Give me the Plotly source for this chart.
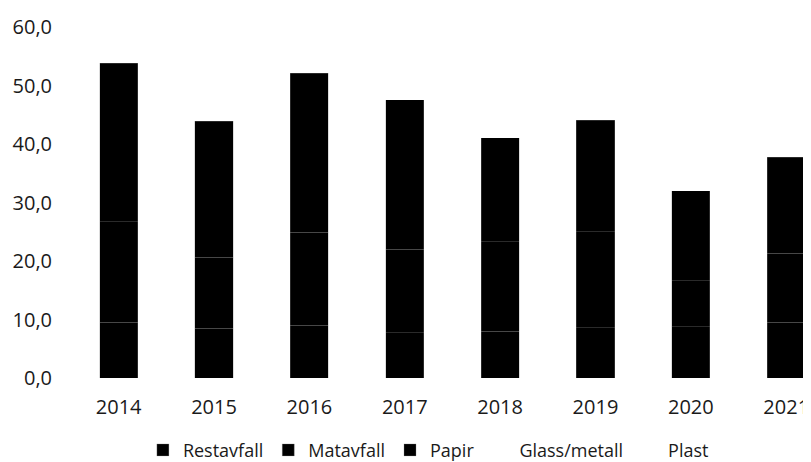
import plotly.graph_objects as go

years = ["2014", "2015", "2016", "2017", "2018", "2019", "2020", "2021"]
restavfall = [9.5, 8.5, 9.0, 7.7, 8.0, 8.6, 8.8, 9.5]
matavfall = [17.2, 12.1, 15.9, 14.3, 15.3, 16.4, 7.8, 11.8]
papir = [27.1, 23.3, 27.2, 25.6, 17.8, 19.1, 15.4, 16.4]
glass_metall = [1.2, 1.1, 1.2, 1.1, 1.0, 1.0, 0.9, 1.0]
plast = [0.8, 0.7, 0.8, 0.7, 0.7, 0.7, 0.6, 0.7]
y_ticks = [0, 10, 20, 30, 40, 50, 60]

series = [
    ("Restavfall", restavfall, "#000000", 0.3),
    ("Matavfall", matavfall, "#000000", 0.3),
    ("Papir", papir, "#000000", 0.3),
    ("Glass/metall", glass_metall, "#ffffff", 0),
    ("Plast", plast, "#ffffff", 0),
]

fig = go.Figure()
for name, vals, col, lw in series:
    fig.add_trace(go.Bar(
        name=name, x=years, y=vals,
        marker=dict(color=col, line=dict(color="#8a8a8a", width=lw)),
    ))

font_family = "Open Sans, DejaVu Sans, sans-serif"
fig.update_layout(
    barmode="stack",
    bargap=0.6,
    width=803, height=454,
    margin=dict(l=63, r=0, t=19, b=84, autoexpand=False),
    paper_bgcolor="white", plot_bgcolor="white",
    separators=", ",
    font=dict(family=font_family, size=20, color="#1a1a1a"),
    showlegend=True,
    legend=dict(
        orientation="h", xref="container", yref="container",
        x=0.168, xanchor="left", y=0.026, yanchor="middle",
        font=dict(family=font_family, size=18, color="#1a1a1a"),
        traceorder="normal", bgcolor="rgba(0,0,0,0)",
    ),
    xaxis=dict(
        range=[-0.5, 7.26], showline=False, showgrid=False, ticks="",
        ticklabelstandoff=15, tickfont=dict(size=20), automargin=False,
    ),
    yaxis=dict(
        range=[0, 60], tickvals=y_ticks, tickformat=".1f",
        showline=False, showgrid=False, zeroline=False, ticks="",
        ticklabelstandoff=18, tickfont=dict(size=20), automargin=False,
    ),
)

fig.write_html("out.html")
